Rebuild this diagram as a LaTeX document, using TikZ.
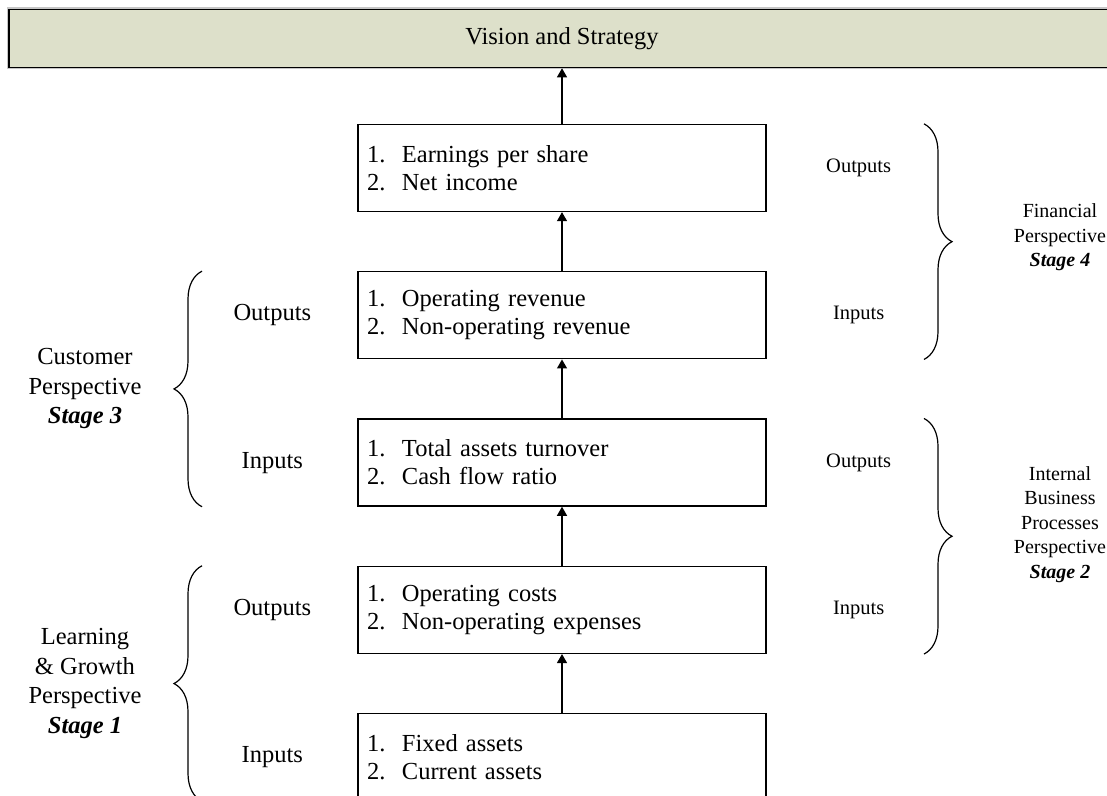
\documentclass[tikz,border=0pt]{standalone}
\usepackage{fontspec}
\setmainfont{Liberation Serif}
\usetikzlibrary{calc,positioning,arrows.meta,decorations.pathreplacing}
\definecolor{visiongreen}{RGB}{221,224,202}
\newcommand{\KpiList}[2]{\makebox[17.5pt][l]{1.}#1\\\makebox[17.5pt][l]{2.}#2}
\tikzset{
  kpi/.style={
    draw=black,
    line width=0.65pt,
    minimum width=204pt,
    minimum height=43.5pt,
    text width=195pt,
    inner xsep=4.5pt,
    inner ysep=0pt,
    align=left,
    font=\fontsize{12.25}{14}\selectfont
  },
  vision/.style={draw=black, line width=0.8pt, fill=visiongreen, preaction={draw=gray!45, line width=2pt},
    minimum width=553pt, minimum height=29pt, font=\fontsize{12.25}{14}\selectfont},
  sidelbl/.style={font=\fontsize{12.25}{14}\selectfont, inner sep=0pt},
  sidelblr/.style={font=\fontsize{10.25}{12.25}\selectfont, inner sep=0pt},
  persp/.style={font=\fontsize{12.25}{14.75}\selectfont, inner sep=0pt, align=center},
  perspr/.style={font=\fontsize{10}{12.25}\selectfont, inner sep=0pt, align=center},
  brc/.style={decorate, decoration={brace, amplitude=14pt}, line width=0.6pt},
  link/.style={-{Triangle[width=5pt,length=4.5pt]}, line width=0.6pt},
}

\begin{document}
\begin{tikzpicture}[x=0.5pt, y=-0.5pt]
  \useasboundingbox (0,0) rectangle (1107,796);
  \node[vision] (VS) at (562,38.5) {Vision and Strategy};
  % stages, bottom-up
  \node[kpi] (P1) at (562,168) {\KpiList{Earnings per share}{Net income}};
  \node[kpi, below=29.5pt of P1] (P2) {\KpiList{Operating revenue}{Non-operating revenue}};
  \node[kpi, below=29.5pt of P2] (P3) {\KpiList{Total assets turnover}{Cash flow ratio}};
  \node[kpi, below=29.5pt of P3] (P4) {\KpiList{Operating costs}{Non-operating expenses}};
  \node[kpi, below=29.5pt of P4] (P5) {\KpiList{Fixed assets}{Current assets}};
  \draw[link] (P1) -- (VS);
  \foreach \a/\b in {P5/P4,P4/P3,P3/P2,P2/P1}
    \draw[link] (\a) -- (\b);
  % inputs / outputs
  \foreach \p/\t in {P2/Outputs,P3/Inputs,P4/Outputs,P5/Inputs}
    \node[sidelbl, left=42.5pt of \p.west, anchor=center] (L\p) {\t};
  \foreach \p/\t in {P1/Outputs,P2/Inputs,P3/Outputs,P4/Inputs}
    \node[sidelblr, right=46pt of \p.east, anchor=center] (R\p) {\t};
  % braces
  \coordinate (LB) at (202,0);
  \coordinate (RB) at (924,0);
  \draw[brc] (RB |- P1.north) -- (RB |- P2.south);
  \draw[brc] (RB |- P3.north) -- (RB |- P4.south);
  \draw[brc] (LB |- P3.south) -- (LB |- P2.north);
  \draw[brc] (LB |- P5.south) -- (LB |- P4.north);
  \node[perspr] (FinP) at ($(RB |- P1.north)!0.5!(RB |- P2.south)+(136,-4)$)
    {Financial\\Perspective\\\textbf{\textit{Stage 4}}};
  \node[perspr] (IntP) at ($(RB |- P3.north)!0.5!(RB |- P4.south)+(136,-12)$)
    {Internal\\Business\\Processes\\Perspective\\\textbf{\textit{Stage 2}}};
  \node[persp] (CusP) at ($(LB |- P2.north)!0.5!(LB |- P3.south)+(-117,0)$)
    {Customer\\Perspective\\\textbf{\textit{Stage 3}}};
  \node[persp] (LrnP) at ($(LB |- P4.north)!0.5!(LB |- P5.south)+(-117,0)$)
    {Learning\\\& Growth\\Perspective\\\textbf{\textit{Stage 1}}};
\end{tikzpicture}
\end{document}
